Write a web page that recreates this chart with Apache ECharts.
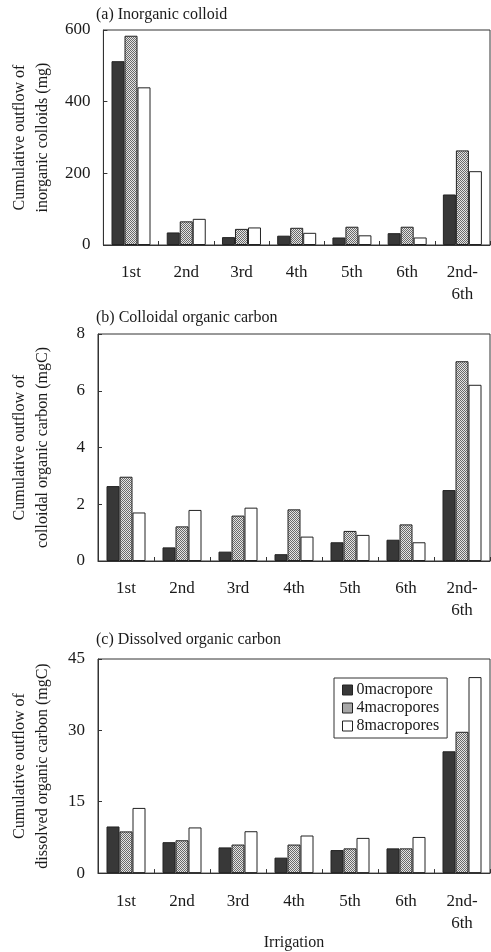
<!DOCTYPE html>
<html>
<head>
<meta charset="utf-8">
<script src="https://cdn.jsdelivr.net/npm/echarts@6/dist/echarts.min.js"></script>
<style>html,body{margin:0;padding:0;background:#fff;}#c{width:491px;height:952px;}</style>
</head>
<body>
<div id="c"></div>
<script>
var categories = ['1st', '2nd', '3rd', '4th', '5th', '6th', '2nd-\n6th'];
var seriesNames = ['0macropore', '4macropores', '8macropores'];

// (a) Inorganic colloid (mg)
var inorg0 = [513, 35, 22, 26, 21, 33, 141];
var inorg4 = [584, 66, 45, 48, 51, 51, 264];
var inorg8 = [440, 73, 49, 34, 27, 21, 206];

// (b) Colloidal organic carbon (mgC)
var coll0 = [2.64, 0.48, 0.33, 0.24, 0.66, 0.75, 2.50];
var coll4 = [2.97, 1.22, 1.60, 1.82, 1.06, 1.29, 7.04];
var coll8 = [1.71, 1.80, 1.88, 0.86, 0.92, 0.66, 6.21];

// (c) Dissolved organic carbon (mgC)
var diss0 = [9.8, 6.5, 5.4, 3.25, 4.84, 5.2, 25.6];
var diss4 = [8.76, 6.9, 6.0, 6.0, 5.2, 5.2, 29.7];
var diss8 = [13.7, 9.6, 8.8, 7.9, 7.4, 7.6, 41.2];

var titles = ['(a) Inorganic colloid', '(b) Colloidal organic carbon', '(c) Dissolved organic carbon'];
var yNames = ['Cumulative outflow of\ninorganic colloids (mg)',
              'Cumulative outflow of\ncolloidal organic carbon (mgC)',
              'Cumulative outflow of\ndissolved organic carbon (mgC)'];
var yMax = [600, 8, 45];
var yInterval = [200, 2, 15];

// stipple pattern for the gray bars
var pc = document.createElement('canvas');
pc.width = 2; pc.height = 2;
var pctx = pc.getContext('2d');
pctx.fillStyle = '#e4e4e4'; pctx.fillRect(0, 0, 2, 2);
pctx.fillStyle = '#6a6a6a'; pctx.fillRect(0, 0, 1, 1); pctx.fillRect(1, 1, 1, 1);
var grayPattern = { image: pc, repeat: 'repeat' };

var fills = ['#383838', grayPattern, '#ffffff'];
var font = 'Liberation Serif';
var txt = '#1a1a1a';

var grids = [
  { left: 95, top: 30, right: 1, height: 215 },
  { left: 90, top: 334, right: 1, height: 227 },
  { left: 91, top: 659, right: 1, height: 226 }
];
var titleTops = [7, 310, 632];

var data = [[inorg0, inorg4, inorg8], [coll0, coll4, coll8], [diss0, diss4, diss8]];

var option = {
  animation: false,
  backgroundColor: '#fff',
  title: titles.map(function (t, i) {
    return { text: t, left: 96, top: titleTops[i], padding: 0,
      textStyle: { fontFamily: font, fontSize: 16, fontWeight: 'normal', color: txt } };
  }),
  grid: grids.map(function (g) {
    return Object.assign({ show: true, borderColor: '#333', borderWidth: 1, containLabel: false }, g);
  }),
  legend: {
    data: seriesNames,
    left: 334, top: 678,
    orient: 'vertical',
    itemWidth: 10, itemHeight: 10, itemGap: 2,
    icon: 'rect',
    borderColor: '#333', borderWidth: 1,
    padding: [4, 8, 4, 8],
    backgroundColor: '#fff',
    textStyle: { fontFamily: font, fontSize: 16, color: txt, lineHeight: 14, padding: [0, 0, 0, -1] },
    itemStyle: { borderColor: '#222', borderWidth: 1 }
  },
  xAxis: [0, 1, 2].map(function (i) {
    return {
      type: 'category', gridIndex: i, data: categories,
      boundaryGap: true,
      name: i === 2 ? 'Irrigation' : '',
      nameLocation: 'middle', nameGap: 48,
      nameTextStyle: { fontFamily: font, fontSize: 16, color: txt },
      axisLine: { lineStyle: { color: '#333', width: 1 } },
      axisTick: { show: true, inside: true, length: 4, lineStyle: { color: '#333' } },
      axisLabel: { fontFamily: font, fontSize: 17, color: txt, margin: 17, lineHeight: 22, interval: 0 },
      splitLine: { show: false }
    };
  }),
  yAxis: [0, 1, 2].map(function (i) {
    return {
      type: 'value', gridIndex: i, min: 0, max: yMax[i], interval: yInterval[i],
      name: yNames[i], nameLocation: 'middle', nameRotate: 90, nameGap: 44,
      nameTextStyle: { fontFamily: font, fontSize: 16, color: txt, lineHeight: 23 },
      axisLine: { show: true, lineStyle: { color: '#333', width: 1 } },
      axisTick: { show: true, inside: true, length: 4, lineStyle: { color: '#333' } },
      axisLabel: { fontFamily: font, fontSize: 17, color: txt, margin: 13 },
      splitLine: { show: false }
    };
  }),
  series: []
};

for (var p = 0; p < 3; p++) {
  for (var s = 0; s < 3; s++) {
    option.series.push({
      name: seriesNames[s], type: 'bar',
      xAxisIndex: p, yAxisIndex: p,
      data: data[p][s],
      barWidth: 13, barGap: '0%',
      itemStyle: { color: fills[s], borderColor: '#222', borderWidth: 1 }
    });
  }
}

var chart = echarts.init(document.getElementById('c'), null, { renderer: 'canvas' });
chart.setOption(option);
</script>
</body>
</html>
